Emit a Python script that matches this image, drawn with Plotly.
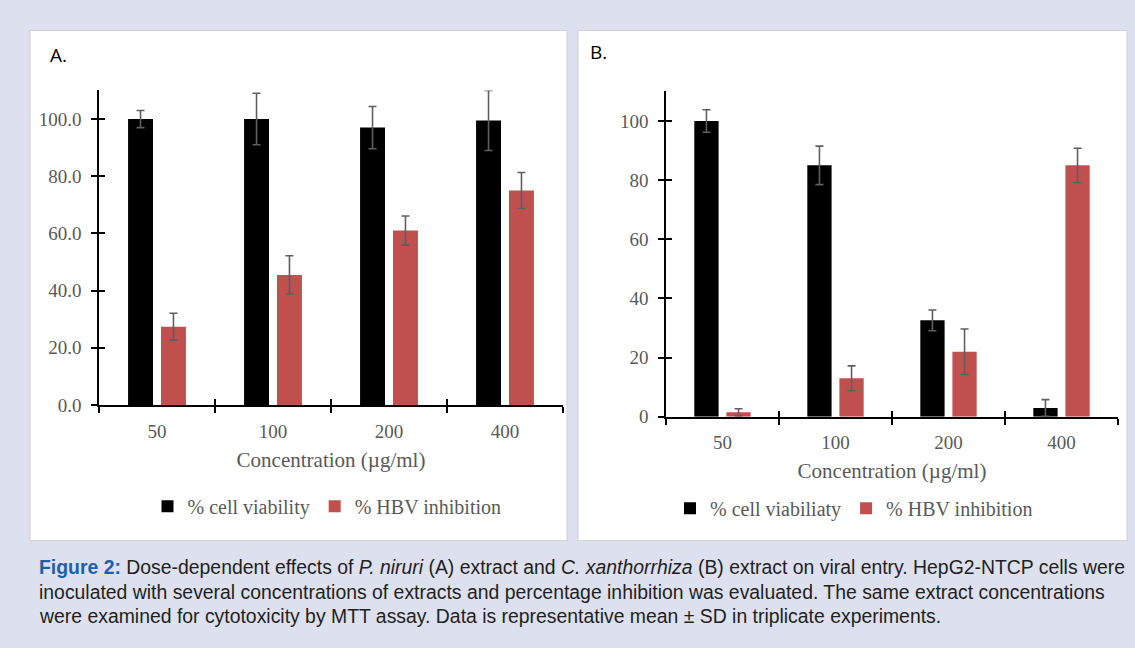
import plotly.graph_objects as go

W, H = 1135, 648

categories = ["50", "100", "200", "400"]

# Panel A: P. niruri
a_viability = [100.0, 100.0, 97.0, 99.5]
a_viability_sd = [3.0, 9.0, 7.4, 10.5]
a_inhibition = [27.4, 45.5, 61.0, 75.0]
a_inhibition_sd = [4.7, 6.7, 5.1, 6.3]

# Panel B: C. xanthorrhiza
b_viability = [100.0, 85.0, 32.6, 3.0]
b_viability_sd = [3.8, 6.5, 3.5, 2.8]
b_inhibition = [1.5, 13.0, 22.0, 85.0]
b_inhibition_sd = [1.2, 4.2, 7.7, 5.8]

a_yticks = [0, 20, 40, 60, 80, 100]
a_yticklabels = ["0.0", "20.0", "40.0", "60.0", "80.0", "100.0"]
b_yticks = [0, 20, 40, 60, 80, 100]
b_yticklabels = ["0", "20", "40", "60", "80", "100"]
boundaries = [-0.5, 0.5, 1.5, 2.5, 3.5]

BG = "#dde0ee"
BLACK = "#000000"
RED = "#c0504d"
ERR = "#5f5f5f"
GRAY_TXT = "#595959"
SERIF = "Liberation Serif, Times New Roman, serif"


def px_x(p):
    return p / W


def px_y(p):
    return 1 - p / H


def err(sd):
    return dict(type="data", array=sd, visible=True, color=ERR, thickness=1.6, width=4)


fig = go.Figure()

fig.add_trace(go.Bar(x=categories, y=a_viability, error_y=err(a_viability_sd),
                     marker=dict(color=BLACK, line=dict(width=0)), name="% cell viability",
                     xaxis="x", yaxis="y", legend="legend"))
fig.add_trace(go.Bar(x=categories, y=a_inhibition, error_y=err(a_inhibition_sd),
                     marker=dict(color=RED, line=dict(width=0)), name="% HBV inhibition",
                     xaxis="x", yaxis="y", legend="legend"))
fig.add_trace(go.Bar(x=categories, y=b_viability, error_y=err(b_viability_sd),
                     marker=dict(color=BLACK, line=dict(width=0)), name="% cell viabiliaty",
                     xaxis="x2", yaxis="y2", legend="legend2"))
fig.add_trace(go.Bar(x=categories, y=b_inhibition, error_y=err(b_inhibition_sd),
                     marker=dict(color=RED, line=dict(width=0)), name="% HBV inhibition",
                     xaxis="x2", yaxis="y2", legend="legend2"))

# invisible traces to carry the inner-tick overlay axes (cross-style ticks)
fig.add_trace(go.Scatter(x=[None], y=[None], xaxis="x3", yaxis="y3", showlegend=False, hoverinfo="skip"))
fig.add_trace(go.Scatter(x=[None], y=[None], xaxis="x4", yaxis="y4", showlegend=False, hoverinfo="skip"))

axis_common = dict(showgrid=False, zeroline=False, showline=True, linecolor="black", linewidth=1.5,
                   ticks="outside", ticklen=6, tickwidth=1.5, tickcolor="black", fixedrange=True)

A_dom_x = [px_x(99), px_x(563)]
A_dom_y = [px_y(412), px_y(92)]
B_dom_x = [px_x(666), px_x(1118)]
B_dom_y = [px_y(424), px_y(93)]

fig.update_layout(
    width=W, height=H,
    margin=dict(l=0, r=0, t=0, b=0),
    paper_bgcolor=BG,
    plot_bgcolor="rgba(0,0,0,0)",
    barmode="group", bargap=0.432, bargroupgap=0.243,
    showlegend=True,
    xaxis=dict(axis_common, domain=A_dom_x, type="category", tickson="boundaries", anchor="y",
               tickfont=dict(family=SERIF, size=19, color=GRAY_TXT), ticklabelstandoff=8,
               title=dict(text="Concentration (µg/ml)", font=dict(family=SERIF, size=21, color=GRAY_TXT), standoff=12)),
    yaxis=dict(axis_common, domain=A_dom_y, range=[0, 110], tickvals=a_yticks, ticktext=a_yticklabels, anchor="x",
               tickfont=dict(family=SERIF, size=19, color=GRAY_TXT), ticklabelstandoff=6),
    xaxis2=dict(axis_common, domain=B_dom_x, type="category", tickson="boundaries", anchor="y2",
                tickfont=dict(family=SERIF, size=19, color=GRAY_TXT), ticklabelstandoff=8,
                title=dict(text="Concentration (µg/ml)", font=dict(family=SERIF, size=21, color=GRAY_TXT), standoff=11)),
    yaxis2=dict(axis_common, domain=B_dom_y, range=[0, 110], tickvals=b_yticks, ticktext=b_yticklabels, anchor="x2",
                tickfont=dict(family=SERIF, size=19, color=GRAY_TXT), ticklabelstandoff=6),
    xaxis3=dict(axis_common, domain=A_dom_x, range=[-0.5, 3.5], tickvals=boundaries, ticks="inside",
                showticklabels=False, showline=False, anchor="y3"),
    yaxis3=dict(axis_common, domain=A_dom_y, range=[0, 110], tickvals=a_yticks, ticks="inside",
                showticklabels=False, showline=False, anchor="x3"),
    xaxis4=dict(axis_common, domain=B_dom_x, range=[-0.5, 3.5], tickvals=boundaries, ticks="inside",
                showticklabels=False, showline=False, anchor="y4"),
    yaxis4=dict(axis_common, domain=B_dom_y, range=[0, 110], tickvals=b_yticks, ticks="inside",
                showticklabels=False, showline=False, anchor="x4"),
    legend=dict(orientation="h", x=px_x(327), y=px_y(515), xanchor="center", yanchor="middle",
                bgcolor="rgba(0,0,0,0)", font=dict(family=SERIF, size=20, color=GRAY_TXT),
                itemwidth=30, traceorder="normal"),
    legend2=dict(orientation="h", x=px_x(854), y=px_y(517), xanchor="center", yanchor="middle",
                 bgcolor="rgba(0,0,0,0)", font=dict(family=SERIF, size=20, color=GRAY_TXT),
                 itemwidth=30, traceorder="normal"),
)

# white panels
for x0, x1 in [(30, 567), (578, 1127)]:
    fig.add_shape(type="rect", xref="paper", yref="paper", x0=px_x(x0), x1=px_x(x1),
                  y0=px_y(550), y1=px_y(31), fillcolor="white", line=dict(color="#cfcfd6", width=1),
                  layer="below")

fig.add_annotation(text="A.", xref="paper", yref="paper", x=px_x(48), y=px_y(56), xanchor="left",
                   yanchor="middle", showarrow=False, font=dict(family="Open Sans, Liberation Sans, sans-serif", size=19, color="black"))
fig.add_annotation(text="B.", xref="paper", yref="paper", x=px_x(588), y=px_y(53), xanchor="left",
                   yanchor="middle", showarrow=False, font=dict(family="Open Sans, Liberation Sans, sans-serif", size=19, color="black"))

CAP_FONT = "Liberation Sans Narrow, Arial Narrow, Liberation Sans, sans-serif"
caption_lines = [
    "<b><span style='color:#1f5ea8'>Figure 2:</span></b> Dose-dependent effects of <i>P. niruri</i> (A) extract and <i>C. xanthorrhiza</i> (B) extract on viral entry. HepG2-NTCP cells were",
    "inoculated with several concentrations of extracts and percentage inhibition was evaluated. The same extract concentrations",
    "were examined for cytotoxicity by MTT assay. Data is representative mean ± SD in triplicate experiments.",
]
for i, line in enumerate(caption_lines):
    fig.add_annotation(text=line, xref="paper", yref="paper", x=px_x(37), y=px_y(577 + 25 * i),
                       xanchor="left", yanchor="middle", showarrow=False,
                       font=dict(family=CAP_FONT, size=19.4, color="#231f20"))

fig.write_html(
    "out.html",
    config={"displayModeBar": False},
    post_script=(
        "document.documentElement.style.margin='0';document.documentElement.style.padding='0';"
        "document.documentElement.style.overflow='hidden';document.documentElement.style.background='" + BG + "';"
        "document.body.style.margin='0';document.body.style.padding='0';document.body.style.overflow='hidden';"
        "document.body.style.background='" + BG + "';"
    ),
)
